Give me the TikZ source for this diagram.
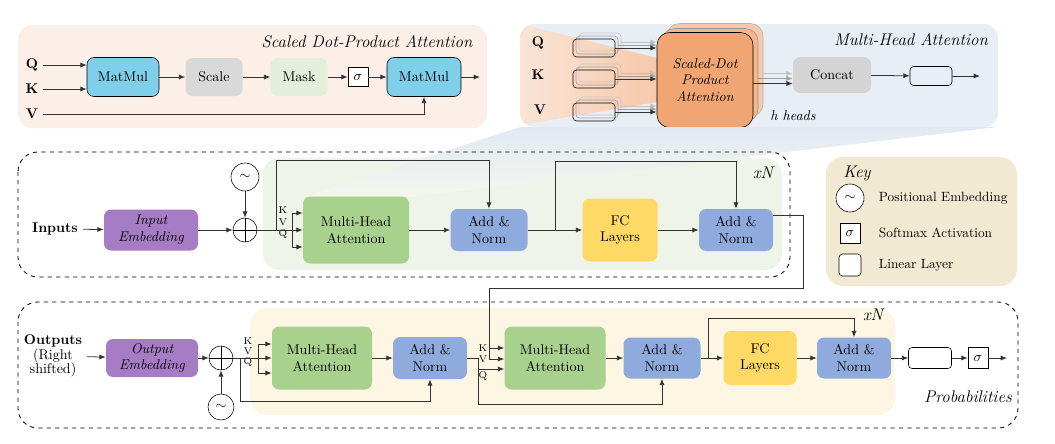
\documentclass[tikz,border=0pt]{standalone}
\usetikzlibrary{arrows.meta}
\definecolor{sdpabg}{HTML}{FCEFE7}
\definecolor{mhabg}{HTML}{E8EEF6}
\definecolor{matmul}{HTML}{80CFEA}
\definecolor{scalegray}{HTML}{D9D9D9}
\definecolor{maskgreen}{HTML}{E2EFDA}
\definecolor{headorange}{HTML}{F0A572}
\definecolor{headmid}{HTML}{F3B68E}
\definecolor{headback}{HTML}{F6C9AB}
\definecolor{concatgray}{HTML}{D4D4D4}
\definecolor{embed}{HTML}{A67DC4}
\definecolor{attn}{HTML}{A9D18E}
\definecolor{addnorm}{HTML}{8FAADC}
\definecolor{fclayer}{HTML}{FFD966}
\definecolor{encbg}{HTML}{EEF4E7}
\definecolor{decbg}{HTML}{FDF6E3}
\definecolor{keybg}{HTML}{F1E9D2}
\definecolor{peach}{HTML}{FAE4D6}
\definecolor{fanblue}{HTML}{E2E9F3}
\definecolor{wirec}{HTML}{333333}

\begin{document}
\begin{tikzpicture}[x=0.025cm, y=-0.025cm,
    font=\fontsize{10}{12}\selectfont,
    >={Latex[length=4.5pt,width=3.6pt]},
    sz/.style 2 args={minimum width=#1*0.025cm, minimum height=#2*0.025cm, inner sep=0pt},
    blk/.style={rounded corners=5pt, align=center},
    lin/.style={draw, rounded corners=2.5pt, sz={42}{18}},
    sig/.style={draw, fill=white, sz={20}{20}},
    posemb/.style={draw, circle, fill=white, sz={28}{28}},
    kvq/.style={font=\scriptsize, inner sep=0pt},
    keytxt/.style={anchor=west, font=\fontsize{9.5}{11}\selectfont},
    wire/.style={draw=wirec, line width=0.55pt},
    ]
    \useasboundingbox (0,0) rectangle (1055,443);

    % scaled dot-product attention
    \fill[sdpabg, rounded corners=10pt] (18,25) rectangle (487,128);
    \node[font=\large\itshape] (sdpatitle) at (367,42) {Scaled Dot-Product Attention};
    \node[font=\bfseries] (sq) at (32,65) {Q};
    \node[font=\bfseries] (sk) at (32,89) {K};
    \node[font=\bfseries] (sv) at (32,114) {V};
    \node[blk, draw, fill=matmul, sz={72}{39}] (mm1) at (123,77) {MatMul};
    \node[blk, fill=scalegray, sz={57}{38}] (scale) at (214,77) {Scale};
    \node[blk, fill=maskgreen, sz={57}{38}] (mask) at (299,77) {Mask};
    \node[sig, sz={20}{19}] (sig1) at (358,77) {$\sigma$};
    \node[blk, draw, fill=matmul, sz={74}{39}] (mm2) at (424,77) {MatMul};
    \coordinate (sdpaout) at (480,77);
    \draw[wire,->] (sq) -- (sq -| mm1.west);
    \draw[wire,->] (sk) -- (sk -| mm1.west);
    \draw[wire,->] (mm1) -- (scale);
    \draw[wire,->] (scale) -- (mask);
    \draw[wire,->] (mask) -- (sig1);
    \draw[wire,->] (sig1) -- (mm2);
    \draw[wire,->] (mm2) -- (sdpaout);
    \draw[wire,->] (sv) -| (mm2);

    % multi-head attention
    \fill[mhabg, rounded corners=10pt] (520,24) rectangle (998,127);
    \begin{scope}
        \clip[rounded corners=10pt] (520,24) rectangle (998,127);
        \shade[left color=peach, right color=headback] (520,24) -- (657,58) -- (657,102) -- (520,125) -- cycle;
    \end{scope}
    \node[font=\large\itshape] (mhatitle) at (911,40) {Multi-Head Attention};
    \node[font=\bfseries] (mq) at (538,43) {Q};
    \node[font=\bfseries] (mk) at (538,75) {K};
    \node[font=\bfseries] (mv) at (540,110) {V};
    \node[blk, draw=gray!60, fill=headback, rounded corners=9pt, sz={96}{93}] (sdpa2) at (715,70) {};
    \node[blk, draw=gray!80, fill=headmid, rounded corners=9pt, sz={96}{93}] (sdpa1) at (710,75) {};
    \node[blk, draw, fill=headorange, rounded corners=9pt, sz={96}{95}, font=\itshape] (sdpa) at (705,80)
        {Scaled-Dot\\Product\\Attention};
    \foreach \n/\y in {q/48,k/79,v/112}{
        \node[lin, draw=gray!45] (lin\n b2) at (600,\y-6) {};
        \node[lin, draw=gray!75] (lin\n b1) at (597,\y-3) {};
        \node[lin] (lin\n) at (594,\y) {};
        \draw[draw=gray!50, line width=0.55pt, ->] (lin\n b2.east) -- (lin\n b2.east -| sdpa.west);
        \draw[draw=gray!75, line width=0.55pt, ->] (lin\n b1.east) -- (lin\n b1.east -| sdpa.west);
        \draw[wire,->] (lin\n) -- (lin\n -| sdpa.west);
    }
    \node[font=\itshape] (heads) at (793,116) {h heads};
    \node[blk, fill=concatgray, sz={78}{36}] (concat) at (832,75) {Concat};
    \draw[draw=gray!50, line width=0.55pt, ->] ([yshift=-2.5pt]sdpa2.east) -- ([yshift=-2.5pt]sdpa2.east -| concat.west);
    \draw[draw=gray!75, line width=0.55pt, ->] ([yshift=-2.5pt]sdpa1.east) -- ([yshift=-2.5pt]sdpa1.east -| concat.west);
    \draw[wire,->] ([yshift=-2.5pt]sdpa.east) -- ([yshift=-2.5pt]sdpa.east -| concat.west);
    \node[lin, sz={42}{19}] (linout) at (931,76) {};
    \coordinate (mhaout) at (980,76);
    \draw[wire,->] (concat) -- (linout);
    \draw[wire,->] (linout) -- (mhaout);

    % encoder
    \fill[encbg, rounded corners=12pt] (263,158) rectangle (782,270);
    \shade[top color=fanblue, bottom color=encbg!70!white] (520,127) -- (998,127) -- (409,197) -- (303,197) -- cycle;
    \draw[dashed, line width=0.6pt, rounded corners=14pt] (18,152) rectangle (790,277);
    \node[font=\large\itshape] (encn) at (763,173) {xN};
    \node[font=\bfseries] (inputs) at (55,229) {Inputs};
    \node[blk, fill=embed, sz={94}{41}, font=\itshape] (inemb) at (151,230) {Input\\Embedding};
    \node[draw, circle, sz={24}{24}] (encadd) at (245,230) {};
    \draw (encadd.north) -- (encadd.south) (encadd.west) -- (encadd.east);
    \node[posemb] (encpos) at (245,177) {$\sim$};
    \node[blk, fill=attn, sz={106}{67}] (encmha) at (356,230) {Multi-Head\\Attention};
    \node[blk, fill=addnorm, sz={77}{42}] (encan1) at (489,230) {Add \&\\Norm};
    \node[blk, fill=fclayer, sz={75}{63}] (encfc) at (620,230) {FC\\Layers};
    \node[blk, fill=addnorm, sz={74}{42}] (encan2) at (736,230) {Add \&\\Norm};
    \node[kvq] at (283,210) {K};
    \node[kvq] at (283,222) {V};
    \node[kvq] at (283,234) {Q};
    \coordinate (enck) at (292,213);
    \coordinate (encq) at (292,247);
    \coordinate (encres) at (276,230);
    \coordinate (encresup) at (276,160);
    \coordinate (encres2) at (555,230);
    \coordinate (encres2up) at (555,161);
    \draw[wire,->] (inputs) -- (inemb);
    \draw[wire,->] (inemb) -- (encadd);
    \draw[wire,->] (encpos) -- (encadd);
    \draw[wire,->] (encadd) -- (encmha);
    \draw[wire] (enck) -- (encq);
    \draw[wire,->] (enck) -- (enck -| encmha.west);
    \draw[wire,->] (encq) -- (encq -| encmha.west);
    \draw[wire,->] (encres) -- (encresup) -| (encan1);
    \draw[wire,->] (encmha) -- (encan1);
    \draw[wire,->] (encan1) -- (encfc);
    \draw[wire,->] (encres2) -- (encres2up) -| (encan2);
    \draw[wire,->] (encfc) -- (encan2);

    % key
    \fill[keybg, rounded corners=12pt] (826,157) rectangle (1017,286);
    \node[font=\large\itshape] (keytitle) at (857,173) {Key};
    \node[posemb] (keypos) at (850,198) {$\sim$};
    \node[keytxt] (keypostxt) at (874,198) {Positional Embedding};
    \node[sig] (keysig) at (850,233) {$\sigma$};
    \node[keytxt] (keysigtxt) at (874,233) {Softmax Activation};
    \node[lin, fill=white, sz={22}{22}] (keylin) at (850,265) {};
    \node[keytxt] (keylintxt) at (874,265) {Linear Layer};

    % decoder
    \fill[decbg, rounded corners=12pt] (250,308) rectangle (895,415);
    \draw[dashed, line width=0.6pt, rounded corners=14pt] (18,302) rectangle (1018,428);
    \node[font=\large\itshape] (decn) at (873,315) {xN};
    \node[align=center, font=\fontsize{10}{10.5}\selectfont] (outputs) at (53,356) {\textbf{Outputs}\\(Right\\shifted)};
    \node[blk, fill=embed, sz={92}{38}, font=\itshape] (outemb) at (152,358) {Output\\Embedding};
    \node[draw, circle, sz={24}{24}] (decadd) at (221,358) {};
    \draw (decadd.north) -- (decadd.south) (decadd.west) -- (decadd.east);
    \node[posemb, sz={26}{26}] (decpos) at (221,407) {$\sim$};
    \node[blk, fill=attn, sz={100}{63}] (decmha1) at (322,358) {Multi-Head\\Attention};
    \node[blk, fill=addnorm, sz={74}{42}] (decan1) at (430,358) {Add \&\\Norm};
    \node[blk, fill=attn, sz={101}{63}] (decmha2) at (555,358) {Multi-Head\\Attention};
    \node[blk, fill=addnorm, sz={77}{41}] (decan2) at (662,358) {Add \&\\Norm};
    \node[blk, fill=fclayer, sz={73}{54}] (decfc) at (760,358) {FC\\Layers};
    \node[blk, fill=addnorm, sz={74}{41}] (decan3) at (854,358) {Add \&\\Norm};
    \node[lin, sz={43}{21}] (declin) at (930,358) {};
    \node[sig, sz={20}{21}] (decsig) at (978,358) {$\sigma$};
    \node[font=\large\itshape] (probs) at (968,397) {Probabilities};
    \node[kvq] at (248,341) {K};
    \node[kvq] at (248,351) {V};
    \node[kvq] at (248,362) {Q};
    \node[kvq] at (483,348) {K};
    \node[kvq] at (483,359) {V};
    \node[kvq] at (483,376) {Q};
    \coordinate (dfk) at (258,344);
    \coordinate (dfq) at (258,373);
    \coordinate (dres1) at (240,358);
    \coordinate (dres1dn) at (240,401);
    \coordinate (djoin) at (478,358);
    \coordinate (dq2) at (478,369);
    \coordinate (dres2dn) at (478,404);
    \coordinate (dres3) at (708,358);
    \coordinate (dres3up) at (708,318);
    \coordinate (decout) at (1007,358);
    \coordinate (memturn) at (803,288);
    \coordinate (memk) at (489,348);
    \coordinate (memv) at (489,359);
    \draw[wire,->] (outputs) -- (outemb);
    \draw[wire,->] (outemb) -- (decadd);
    \draw[wire,->] (decpos) -- (decadd);
    \draw[wire,->] (decadd) -- (decmha1);
    \draw[wire] (dfk) -- (dfq);
    \draw[wire,->] (dfk) -- (dfk -| decmha1.west);
    \draw[wire,->] (dfq) -- (dfq -| decmha1.west);
    \draw[wire,->] (dres1) -- (dres1dn) -| (decan1);
    \draw[wire,->] (decmha1) -- (decan1);
    \draw[wire] (decan1) -- (djoin) -- (dres2dn);
    \draw[wire,->] (dres2dn) -| (decan2);
    \draw[wire,->] (dq2) -- (dq2 -| decmha2.west);
    \draw[wire] ([yshift=10.5pt]encan2.east) -| (memturn) -| (memv);
    \draw[wire,->] (memk) -- (memk -| decmha2.west);
    \draw[wire,->] (memv) -- (memv -| decmha2.west);
    \draw[wire,->] (decmha2) -- (decan2);
    \draw[wire,->] (dres3) -- (dres3up) -| (decan3);
    \draw[wire,->] (decan2) -- (decfc);
    \draw[wire,->] (decfc) -- (decan3);
    \draw[wire,->] (decan3) -- (declin);
    \draw[wire,->] (declin) -- (decsig);
    \draw[wire,->] (decsig) -- (decout);
\end{tikzpicture}
\end{document}
